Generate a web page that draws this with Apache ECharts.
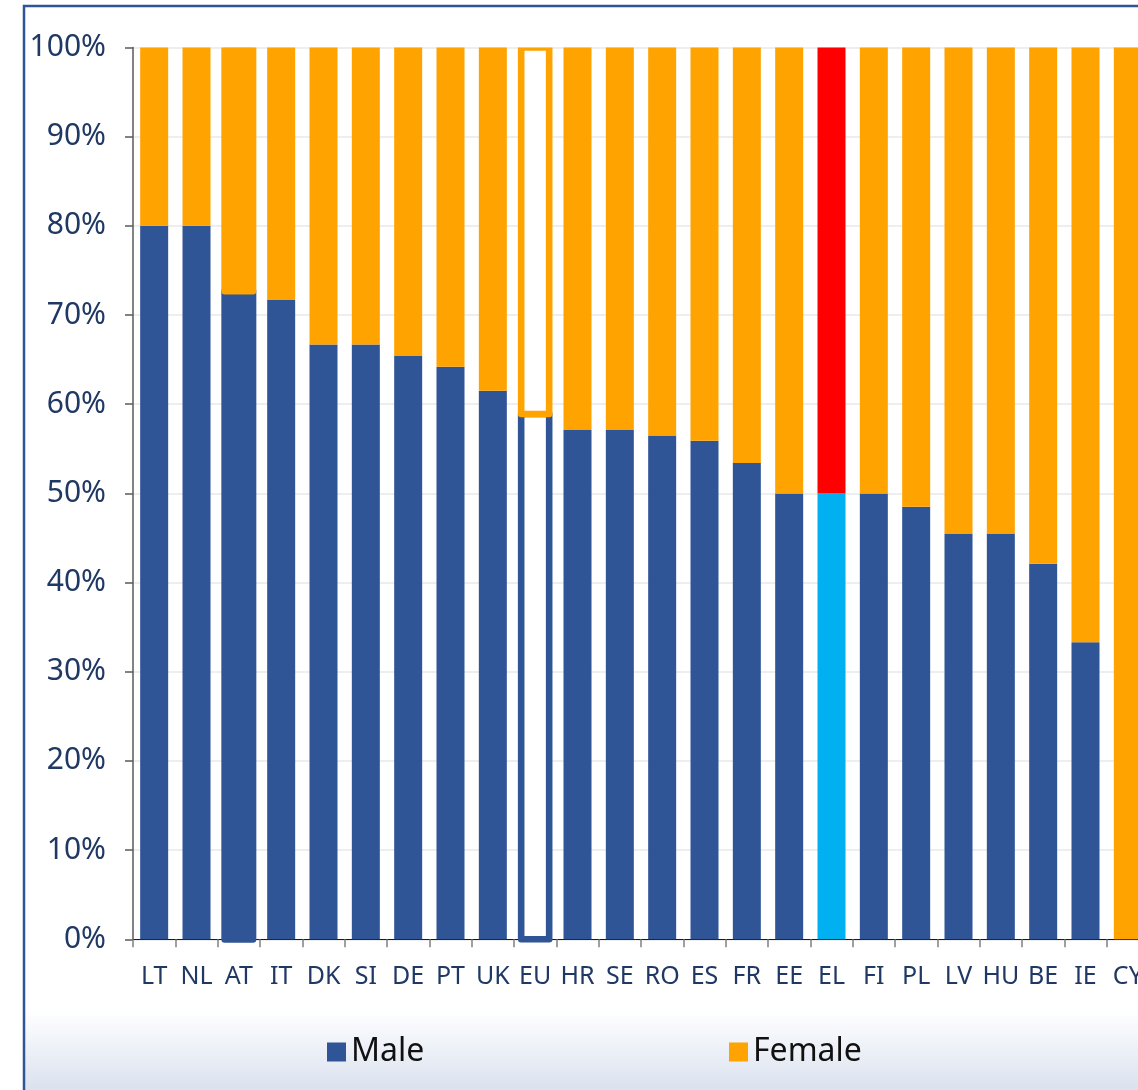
<!DOCTYPE html>
<html>
<head>
<meta charset="utf-8">
<script src="https://cdn.jsdelivr.net/npm/echarts@6/dist/echarts.min.js"></script>
<style>
html,body{margin:0;padding:0;background:#fff;}
#chart{width:1138px;height:1090px;}
</style>
</head>
<body>
<div id="chart"></div>
<script>
const categories = ['LT','NL','AT','IT','DK','SI','DE','PT','UK','EU','HR','SE','RO','ES','FR','EE','EL','FI','PL','LV','HU','BE','IE','CY'];
const maleValues   = [80, 80, 72.7, 71.7, 66.7, 66.7, 65.4, 64.2, 61.5, 58.9, 57.1, 57.1, 56.5, 55.9, 53.4, 50, 50, 50, 48.5, 45.5, 45.5, 42.1, 33.3, 0];
const femaleValues = [20, 20, 27.3, 28.3, 33.3, 33.3, 34.6, 35.8, 38.5, 41.1, 42.9, 42.9, 43.5, 44.1, 46.6, 50, 50, 50, 51.5, 54.5, 54.5, 57.9, 66.7, 100];
const yTicks = [0,10,20,30,40,50,60,70,80,90,100];
// categories drawn as outlined / highlighted bars
const outlinedCats = ['AT','EU'];
const highlightCat = 'EL';

const BLUE = '#2F5597', ORANGE = '#FFA300', CYAN = '#00B0F0', RED = '#FF0000';
const LABEL = '#1F3864';
const FONT = 'Noto Sans';
const BAR_W = 28;

function plain(values, kind) {
  return values.map((v, i) => {
    const c = categories[i];
    if (outlinedCats.includes(c)) return null;
    if (c === highlightCat) return {value: v, itemStyle: {color: kind === 'm' ? CYAN : RED}};
    return v;
  });
}

const specialIdx = categories.map((c, i) => i).filter(i => outlinedCats.includes(categories[i]));
const maleSpecial = specialIdx.map(i => [i, 0, maleValues[i]]);
const femaleSpecial = specialIdx.map(i => [i, maleValues[i], maleValues[i] + femaleValues[i]]);

function specialRender(color) {
  return function (params, api) {
    const idx = api.value(0);
    const p0 = api.coord([idx, api.value(1)]);
    const p1 = api.coord([idx, api.value(2)]);
    const isEU = categories[idx] === 'EU';
    const lw = isEU ? 6.6 : 7;
    return {
      type: 'rect',
      shape: {x: p0[0] - BAR_W / 2, y: p1[1], width: BAR_W, height: p0[1] - p1[1]},
      style: {fill: isEU ? '#FFFFFF' : color, stroke: color, lineWidth: lw, lineJoin: 'round'}
    };
  };
}

const chart = echarts.init(document.getElementById('chart'), null, {renderer: 'canvas'});
chart.setOption({
  animation: false,
  backgroundColor: '#FFFFFF',
  textStyle: {fontFamily: FONT},
  grid: {left: 133, top: 47.5, width: 1016, bottom: 150.7, containLabel: false, outerBoundsMode: 'none'},
  graphic: [
    {type: 'rect', z: -10, silent: true,
     shape: {x: 25, y: 1000, width: 1120, height: 95},
     style: {fill: {type: 'linear', x: 0, y: 0, x2: 0, y2: 1,
       colorStops: [{offset: 0, color: '#FFFFFF'}, {offset: 0.1, color: '#FFFFFF'}, {offset: 1, color: '#D8E0EE'}]}}},
    {type: 'rect', z: 100, silent: true,
     shape: {x: 24, y: 6, width: 1400, height: 1400},
     style: {fill: 'none', stroke: BLUE, lineWidth: 2.5}}
  ],
  legend: [
    {data: ['Male'], left: 327, top: 1036, padding: 0, itemWidth: 19, itemHeight: 19, itemGap: 8,
     icon: 'rect', textStyle: {fontSize: 32, color: '#111', fontFamily: FONT, padding: [10, 0, 0, 0]}},
    {data: ['Female'], left: 729, top: 1036, padding: 0, itemWidth: 19, itemHeight: 19, itemGap: 8,
     icon: 'rect', textStyle: {fontSize: 32, color: '#111', fontFamily: FONT, padding: [10, 0, 0, 0]}}
  ],
  xAxis: {
    type: 'category',
    data: categories,
    axisLine: {show: true, lineStyle: {color: '#1A1A1A', width: 1}},
    axisTick: {show: true, alignWithLabel: false, length: 8, lineStyle: {color: '#808080', width: 1.5}},
    axisLabel: {interval: 0, color: LABEL, fontSize: 25, margin: 25, fontFamily: FONT},
    splitLine: {show: false}
  },
  yAxis: {
    type: 'value',
    min: yTicks[0], max: yTicks[yTicks.length - 1], interval: 10,
    axisLine: {show: true, lineStyle: {color: '#595959', width: 1.5}},
    axisTick: {show: true, length: 8, lineStyle: {color: '#595959', width: 1.5}},
    axisLabel: {formatter: '{value}%', color: LABEL, fontSize: 30, margin: 27, fontFamily: FONT},
    splitLine: {show: true, lineStyle: {color: '#E8E8E8', width: 1.5}}
  },
  series: [
    {name: 'Male', type: 'bar', stack: 'total', barWidth: BAR_W, z: 2,
     itemStyle: {color: BLUE}, data: plain(maleValues, 'm')},
    {name: 'Female', type: 'bar', stack: 'total', barWidth: BAR_W, z: 3,
     itemStyle: {color: ORANGE}, data: plain(femaleValues, 'f')},
    {name: 'Male', type: 'custom', z: 4, clip: false, renderItem: specialRender(BLUE),
     encode: {x: 0, y: [1, 2]}, data: maleSpecial},
    {name: 'Female', type: 'custom', z: 5, clip: true, renderItem: specialRender(ORANGE),
     encode: {x: 0, y: [1, 2]}, data: femaleSpecial}
  ]
});
</script>
</body>
</html>
